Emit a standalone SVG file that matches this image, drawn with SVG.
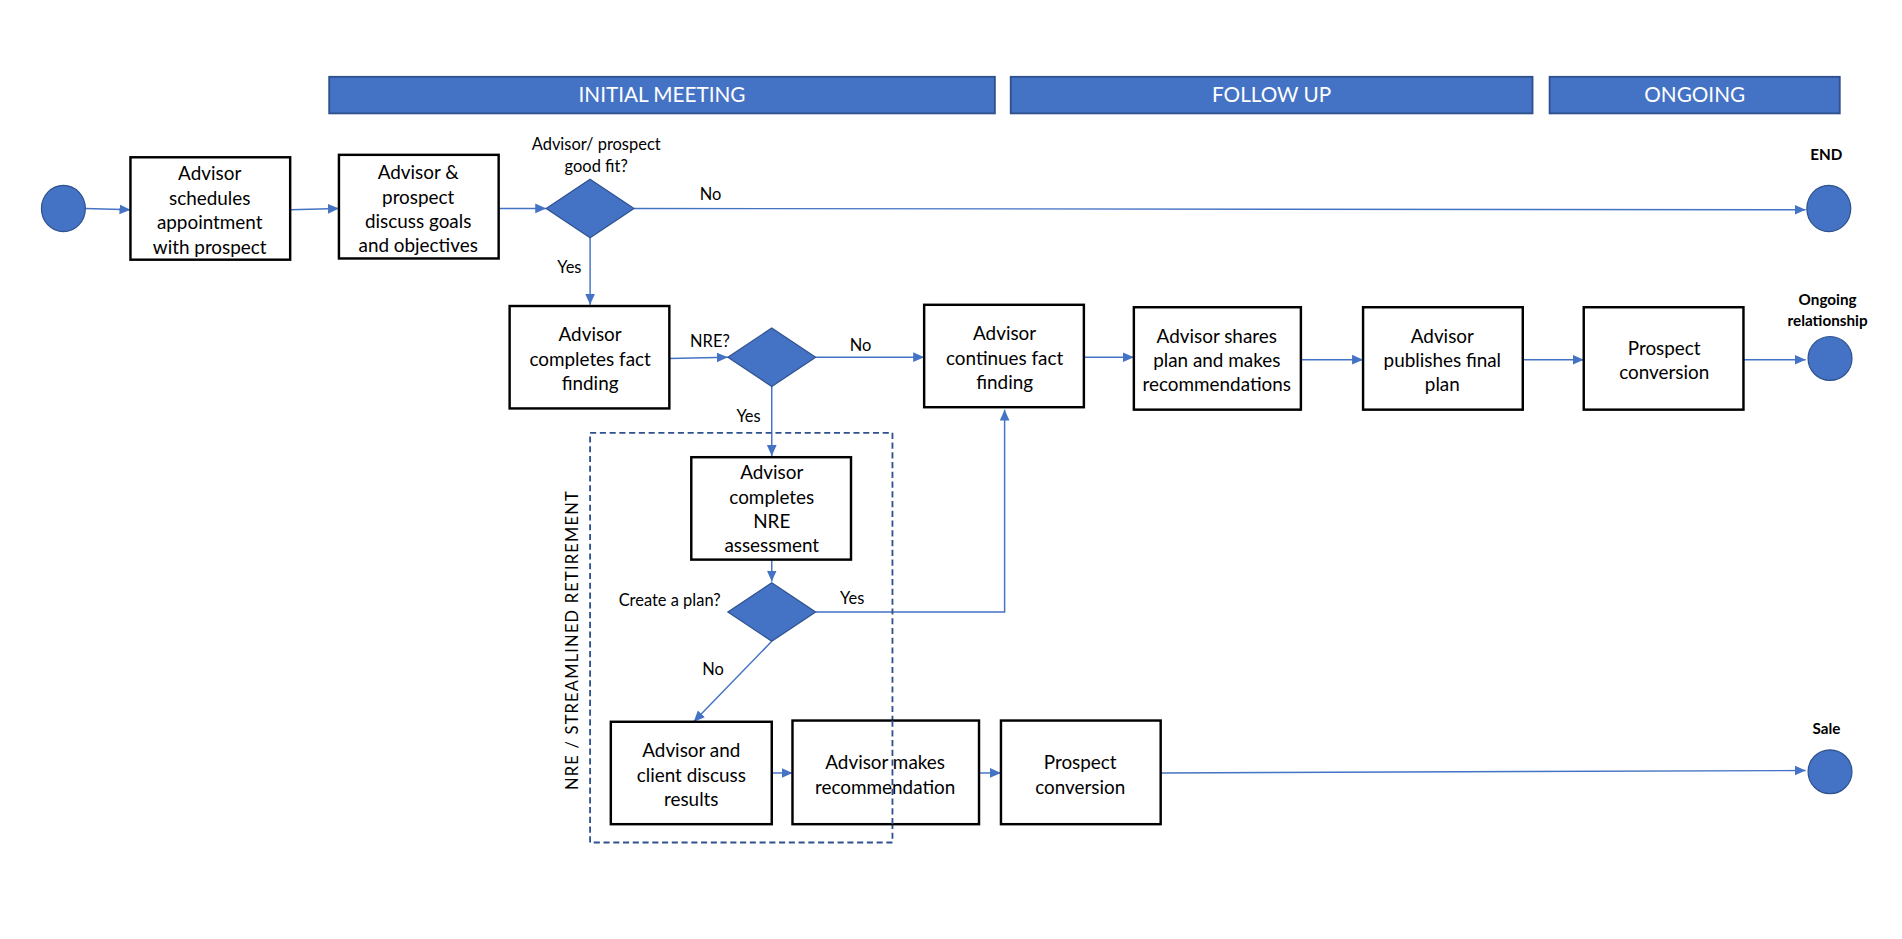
<svg xmlns="http://www.w3.org/2000/svg" width="1902" height="939" viewBox="0 0 1902 939">
<style>
text{font-family:Lato,"Open Sans","Liberation Sans",sans-serif;fill:#000}
.hd rect{fill:#4472C4;stroke:#2F528F;stroke-width:1.5}
.hd text{fill:#fff;font-size:17px;text-anchor:middle}
.box rect{fill:#fff;stroke:#000;stroke-width:2}
.box text{font-size:15.5px;text-anchor:middle}
.c{fill:#4472C4;stroke:#2F528F;stroke-width:1}
.lbl{font-size:13.5px}
.b{font-size:12.5px;font-weight:bold;text-anchor:middle}
.cn path{fill:none;stroke:#4472C4;stroke-width:1.2}
</style>
<defs><marker id="a" markerWidth="10" markerHeight="10" refX="9" refY="5" orient="auto" markerUnits="userSpaceOnUse"><path d="M0,1 L9,5 L0,9 z" fill="#4472C4"/></marker></defs>
<rect width="1902" height="939" fill="#fff"/>
<g transform="scale(1.2192)">
<g id="headers" class="hd">
<rect x="270" y="63" width="546" height="30"/><text x="543" y="84">INITIAL MEETING</text>
<rect x="829" y="63" width="428" height="30"/><text x="1043" y="84">FOLLOW UP</text>
<rect x="1271" y="63" width="238" height="30"/><text x="1390" y="84">ONGOING</text>
</g>
<g id="connectors" class="cn">
<path d="M70,171 L107,172" marker-end="url(#a)"/>
<path d="M238,172 L278,171" marker-end="url(#a)"/>
<path d="M409,171 L448,171" marker-end="url(#a)"/>
<path d="M520,171 L1481,172" marker-end="url(#a)"/>
<path d="M484,195 L484,250" marker-end="url(#a)"/>
<path d="M549,294 L597,293" marker-end="url(#a)"/>
<path d="M669,293 L758,293" marker-end="url(#a)"/>
<path d="M889,293 L930,293" marker-end="url(#a)"/>
<path d="M1067,295 L1118,295" marker-end="url(#a)"/>
<path d="M1249,295 L1299,295" marker-end="url(#a)"/>
<path d="M1430,295 L1481,295" marker-end="url(#a)"/>
<path d="M633,317 L633,374" marker-end="url(#a)"/>
<path d="M633,459 L633,477" marker-end="url(#a)"/>
<path d="M669,502 L824,502 L824,336" marker-end="url(#a)"/>
<path d="M633,526 L569,592" marker-end="url(#a)"/>
<path d="M633,634 L650,634" marker-end="url(#a)"/>
<path d="M803,634 L821,634" marker-end="url(#a)"/>
<path d="M952,634 L1481,632" marker-end="url(#a)"/>
</g>
<g id="labels" class="lbl">
<text x="489" y="123" text-anchor="middle">Advisor/ prospect</text>
<text x="489" y="141" text-anchor="middle">good fit?</text>
<text x="574" y="164">No</text>
<text x="457" y="224">Yes</text>
<text x="566" y="285">NRE?</text>
<text x="697" y="288">No</text>
<text x="604" y="346">Yes</text>
<text x="591" y="497" text-anchor="end">Create a plan?</text>
<text x="689" y="495">Yes</text>
<text x="576" y="554">No</text>
</g>
<g id="start"><ellipse class="c" cx="52" cy="171" rx="18" ry="19"/></g>
<g id="end"><ellipse class="c" cx="1500" cy="171" rx="18" ry="19"/><text class="b" x="1498" y="131">END</text></g>
<g id="ongoing"><ellipse class="c" cx="1501" cy="294" rx="18" ry="18"/><text class="b" x="1499" y="250">Ongoing</text><text class="b" x="1499" y="267">relationship</text></g>
<g id="sale"><ellipse class="c" cx="1501" cy="633" rx="18" ry="18"/><text class="b" x="1498" y="602">Sale</text></g>
<g id="n1" class="box"><rect x="107" y="129" width="131" height="84"/><text x="172" y="148">Advisor</text><text x="172" y="168">schedules</text><text x="172" y="188">appointment</text><text x="172" y="208">with prospect</text></g>
<g id="n2" class="box"><rect x="278" y="127" width="131" height="85"/><text x="343" y="147">Advisor &amp;</text><text x="343" y="167">prospect</text><text x="343" y="187">discuss goals</text><text x="343" y="207">and objectives</text></g>
<g id="d1"><path class="c" d="M484,147 L520,171 L484,195 L448,171 z"/></g>
<g id="n3" class="box"><rect x="418" y="251" width="131" height="84"/><text x="484" y="280">Advisor</text><text x="484" y="300">completes fact</text><text x="484" y="320">finding</text></g>
<g id="d2"><path class="c" d="M633,269 L669,293 L633,317 L597,293 z"/></g>
<g id="n4" class="box"><rect x="758" y="250" width="131" height="84"/><text x="824" y="279">Advisor</text><text x="824" y="299">continues fact</text><text x="824" y="319">finding</text></g>
<g id="n5" class="box"><rect x="930" y="252" width="137" height="84"/><text x="998" y="281">Advisor shares</text><text x="998" y="301">plan and makes</text><text x="998" y="321">recommendations</text></g>
<g id="n6" class="box"><rect x="1118" y="252" width="131" height="84"/><text x="1183" y="281">Advisor</text><text x="1183" y="301">publishes final</text><text x="1183" y="321">plan</text></g>
<g id="n7" class="box"><rect x="1299" y="252" width="131" height="84"/><text x="1365" y="291">Prospect</text><text x="1365" y="311">conversion</text></g>
<g id="nre" ><rect x="484" y="355" width="248" height="336" fill="none" stroke="#2F528F" stroke-width="1.5" stroke-dasharray="5,3"/><text transform="translate(474,525) rotate(-90)" text-anchor="middle" font-size="13.5" letter-spacing="1">NRE / STREAMLINED RETIREMENT</text></g>
<g id="n8" class="box"><rect x="567" y="375" width="131" height="84"/><text x="633" y="393">Advisor</text><text x="633" y="413">completes</text><text x="633" y="433">NRE</text><text x="633" y="453">assessment</text></g>
<g id="d3"><path class="c" d="M633,478 L669,502 L633,526 L597,502 z"/></g>
<g id="n9" class="box"><rect x="501" y="592" width="132" height="84"/><text x="567" y="621">Advisor and</text><text x="567" y="641">client discuss</text><text x="567" y="661">results</text></g>
<g id="n10" class="box"><rect x="650" y="591" width="153" height="85"/><text x="726" y="631">Advisor makes</text><text x="726" y="651">recommendation</text></g>
<g id="n11" class="box"><rect x="821" y="591" width="131" height="85"/><text x="886" y="631">Prospect</text><text x="886" y="651">conversion</text></g>
<path d="M732,591 L732,676" stroke="#2F528F" stroke-width="1.5" stroke-dasharray="5,3"/>
</g>
</svg>
